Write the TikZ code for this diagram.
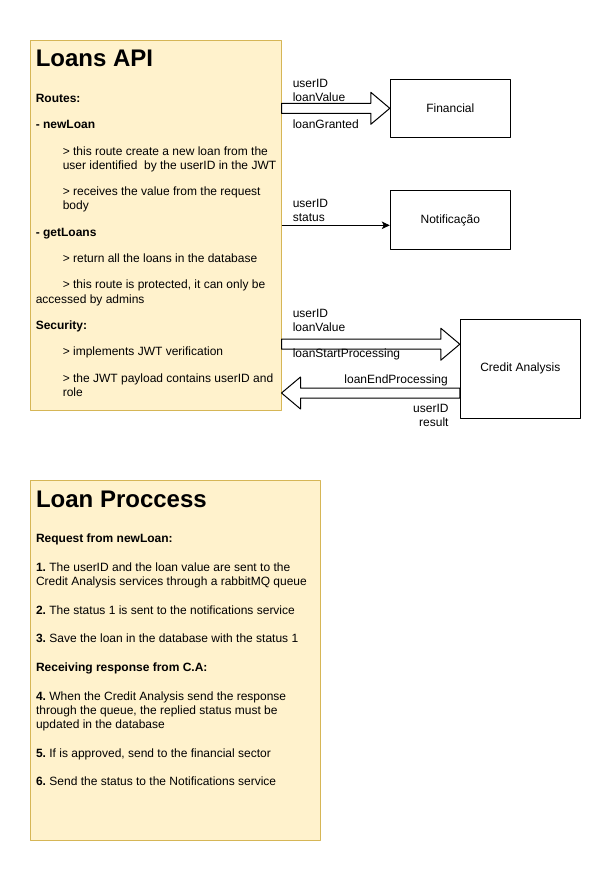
\documentclass[tikz,border=0pt]{standalone}
\usepackage{fontspec}
\setmainfont{Liberation Sans}
\usetikzlibrary{calc,arrows.meta}
\definecolor{notefill}{HTML}{FFF2CC}
\definecolor{noteline}{HTML}{D6B656}
\frenchspacing
\newcommand{\fatarrow}[3]{%
  \draw[line width=0.75pt,fill=white] ($(#1)+(0,-5)$) -- ($(#2)+(-19*#3,-5)$) -- ($(#2)+(-19*#3,-16)$) -- (#2) -- ($(#2)+(-19*#3,16)$) -- ($(#2)+(-19*#3,5)$) -- ($(#1)+(0,5)$) -- cycle;}
\begin{document}
\begin{tikzpicture}[x=0.75pt,y=-0.75pt,line join=round,font=\fontsize{9}{10.6}\selectfont,>={Stealth[length=6pt,width=5.6pt,inset=1.5pt]},
  panel/.style={draw=noteline,fill=notefill,line width=0.75pt,inner sep=0pt},
  service/.style={draw,line width=0.75pt,minimum width=90pt,inner sep=0pt},
  heading/.style={font=\fontsize{18}{21.6}\selectfont\bfseries,inner sep=0pt,anchor=west},
  body/.style={align=left,inner sep=0pt,anchor=north west},
  lbl/.style={align=left,inner sep=0pt,anchor=west}]
\useasboundingbox (0,0) rectangle (612,871);
\node[panel,minimum width=188.25pt,minimum height=277.5pt] (api) at (155.5,225.3) {};
\node[panel,minimum width=217.5pt,minimum height=270pt] (proc) at (175.3,660.7) {};
\node[service,minimum height=43.5pt] (fin) at (450.3,108.3) {Financial};
\node[service,minimum height=44.5pt] (noti) at (450.3,220.3) {Notificação};
\node[service,minimum height=74.25pt] (ca) at (520.3,368.7) {Credit Analysis};
\node[heading] (apititle) at ($(api.north west)+(6,18.8)$) {Loans API};
\node[body] (apitext) at ($(api.north west)+(6,54)$) {%
\textbf{Routes:}\\[9.2pt]
\textbf{- newLoan}\\[9.2pt]
\hspace*{20.25pt}> this route create a new loan from the\\
\hspace*{20.25pt}user identified\ \ by the userID in the JWT\\[9.2pt]
\hspace*{20.25pt}> receives the value from the request\\
\hspace*{20.25pt}body\\[9.2pt]
\textbf{- getLoans}\\[9.2pt]
\hspace*{20.25pt}> return all the loans in the database\\[9.2pt]
\hspace*{20.25pt}> this route is protected, it can only be\\
accessed by admins\\[9.2pt]
\textbf{Security:}\\[9.2pt]
\hspace*{20.25pt}> implements JWT verification\\[9.2pt]
\hspace*{20.25pt}> the JWT payload contains userID and\\
\hspace*{20.25pt}role};
\node[heading] (proctitle) at ($(proc.north west)+(6,19.3)$) {Loan Proccess};
\node[body] (proctext) at ($(proc.north west)+(6,53.5)$) {%
\textbf{Request from newLoan:}\\[10.9pt]
\textbf{1.} The userID and the loan value are sent to the\\
Credit Analysis services through a rabbitMQ queue\\[10.9pt]
\textbf{2.} The status 1 is sent to the notifications service\\[10.9pt]
\textbf{3.} Save the loan in the database with the status 1\\[10.9pt]
\textbf{Receiving response from C.A:}\\[10.9pt]
\textbf{4.} When the Credit Analysis send the response\\
through the queue, the replied status must be\\
updated in the database\\[10.9pt]
\textbf{5.} If is approved, send to the financial sector\\[10.9pt]
\textbf{6.} Send the status to the Notifications service};
\coordinate (finin) at (fin.west);
\coordinate (finout) at (api.east |- finin);
\coordinate (notiin) at ($(noti.west)+(0,5)$);
\coordinate (notiout) at (api.east |- notiin);
\coordinate (cain) at ($(ca.west)+(0,-24.5)$);
\coordinate (caout) at (api.east |- cain);
\coordinate (backout) at ($(ca.west)+(0,24.3)$);
\coordinate (backin) at (api.east |- backout);
\fatarrow{finout}{finin}{1}
\draw[line width=0.75pt,->] (notiout) -- (notiin);
\fatarrow{caout}{cain}{1}
\fatarrow{backout}{backin}{-1}
\node[lbl] (finsend) at ($(finout)+(11,-18)$) {userID\\loanValue};
\node[lbl] (fingrant) at ($(finout)+(11,16.2)$) {loanGranted};
\node[lbl] (notisend) at ($(notiout)+(11,-15)$) {userID\\status};
\node[lbl] (casend) at ($(caout)+(11,-24)$) {userID\\loanValue};
\node[lbl] (castart) at ($(caout)+(11,10.5)$) {loanStartProcessing};
\node[lbl,anchor=east] (caend) at ($(backout)+(-11.7,-13)$) {loanEndProcessing};
\node[lbl,anchor=east,align=right] (careply) at ($(backout)+(-11,22)$) {userID\\result};
\end{tikzpicture}
\end{document}
